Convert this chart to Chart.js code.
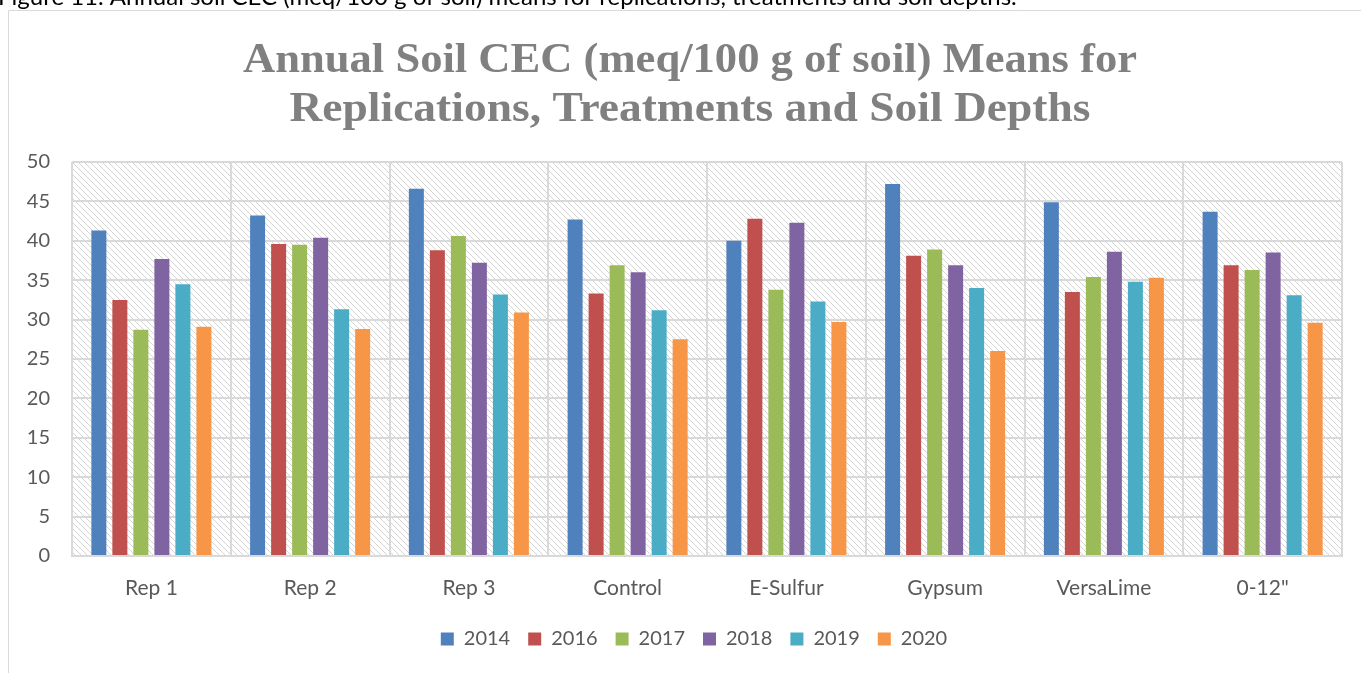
<!DOCTYPE html>
<html>
<head>
<meta charset="utf-8">
<script src="https://cdn.jsdelivr.net/npm/chart.js@4/dist/chart.umd.min.js"></script>
<style>
  html, body { margin: 0; padding: 0; background: #ffffff; overflow: hidden; }
  #wrap { position: relative; width: 1361px; height: 673px; }
  canvas { display: block; }
</style>
</head>
<body>
<div id="wrap"><canvas id="c" width="1361" height="673"></canvas></div>
<script>
const categories = ['Rep 1', 'Rep 2', 'Rep 3', 'Control', 'E-Sulfur', 'Gypsum', 'VersaLime', '0-12"'];
const years = ['2014', '2016', '2017', '2018', '2019', '2020'];
const s2014 = [41.3, 43.2, 46.6, 42.7, 40.0, 47.2, 44.9, 43.7];
const s2016 = [32.5, 39.6, 38.8, 33.3, 42.8, 38.1, 33.5, 36.9];
const s2017 = [28.7, 39.5, 40.6, 36.9, 33.8, 38.9, 35.4, 36.3];
const s2018 = [37.7, 40.4, 37.2, 36.0, 42.3, 36.9, 38.6, 38.5];
const s2019 = [34.5, 31.3, 33.2, 31.2, 32.3, 34.0, 34.8, 33.1];
const s2020 = [29.1, 28.8, 30.9, 27.5, 29.7, 26.0, 35.3, 29.6];
const yTicks = [0, 5, 10, 15, 20, 25, 30, 35, 40, 45, 50];
const titleLines = ['Annual Soil CEC (meq/100 g of soil) Means for', 'Replications, Treatments and Soil Depths'];
const captionText = 'Figure 11. Annual soil CEC (meq/100 g of soil) means for replications, treatments and soil depths.';

const seriesValues = [s2014, s2016, s2017, s2018, s2019, s2020];
const colors = ['#4F81BD', '#C0504D', '#9BBB59', '#8064A2', '#4BACC6', '#F79646'];

function makeHatch() {
  const t = document.createElement('canvas');
  const n = 6;
  t.width = n; t.height = n;
  const g = t.getContext('2d');
  g.fillStyle = '#ffffff';
  g.fillRect(0, 0, n, n);
  g.fillStyle = '#d4d4d4';
  for (let i = 0; i < n; i++) {
    g.fillRect(i, i, 1, 1);
  }
  return t;
}

function fitText(ctx, text, cx, y, width) {
  const w = ctx.measureText(text).width;
  ctx.save();
  ctx.translate(cx, y);
  ctx.scale(width / w, 1);
  ctx.textAlign = 'center';
  ctx.fillText(text, 0, 0);
  ctx.restore();
}

const decor = {
  id: 'decor',
  afterLayout(chart) {
    if (chart.legend) {
      chart.legend.left += 18;
      chart.legend.right += 18;
    }
  },
  beforeDraw(chart) {
    const ctx = chart.ctx;
    const a = chart.chartArea;
    ctx.save();
    // frame
    ctx.strokeStyle = '#d9d9d9';
    ctx.lineWidth = 1;
    ctx.beginPath();
    ctx.moveTo(8.5, 700);
    ctx.lineTo(8.5, 10.5);
    ctx.lineTo(1400, 10.5);
    ctx.stroke();
    // caption (cut off at top)
    ctx.fillStyle = '#000000';
    ctx.font = '24px Lato';
    ctx.textAlign = 'left';
    ctx.textBaseline = 'alphabetic';
    ctx.fillText(captionText, -2, 5);
    // hatch background
    const pat = ctx.createPattern(makeHatch(), 'repeat');
    ctx.fillStyle = pat;
    ctx.fillRect(a.left, a.top, a.right - a.left, a.bottom - a.top);
    // title
    ctx.fillStyle = '#808080';
    ctx.font = 'bold 42px "Liberation Serif"';
    fitText(ctx, titleLines[0], 690, 72, 894);
    fitText(ctx, titleLines[1], 690, 121, 801);
    ctx.restore();
  }
};

new Chart(document.getElementById('c'), {
  type: 'bar',
  data: {
    labels: categories,
    datasets: years.map((y, i) => ({
      label: y,
      data: seriesValues[i],
      backgroundColor: colors[i],
      borderWidth: 0,
      categoryPercentage: 0.794,
      barPercentage: 0.714
    }))
  },
  options: {
    responsive: false,
    animation: false,
    devicePixelRatio: 1,
    layout: { padding: { left: 10, right: 19, top: 162, bottom: 14 } },
    plugins: {
      title: { display: false },
      tooltip: { enabled: false },
      legend: {
        position: 'bottom',
        labels: {
          boxWidth: 13,
          boxHeight: 13,
          padding: 18,
          color: '#595959',
          font: { family: 'Lato', size: 20 },
          generateLabels(chart) {
            return chart.data.datasets.map((ds, i) => ({
              text: ds.label,
              fillStyle: ds.backgroundColor,
              strokeStyle: ds.backgroundColor,
              lineWidth: 0,
              fontColor: '#595959',
              hidden: false,
              datasetIndex: i
            }));
          }
        }
      }
    },
    scales: {
      x: {
        grid: { color: '#d9d9d9', lineWidth: 2, drawTicks: false, offset: true },
        border: { color: '#d9d9d9', width: 2 },
        ticks: { color: '#595959', font: { family: 'Lato', size: 21 }, padding: 20, maxRotation: 0 },
        afterFit(scale) { scale.height = 55; }
      },
      y: {
        min: 0,
        max: 50,
        afterBuildTicks(scale) { scale.ticks = yTicks.map(v => ({ value: v })); },
        grid: { color: '#d9d9d9', lineWidth: 2, drawTicks: false },
        border: { display: false },
        ticks: { color: '#595959', font: { family: 'Lato', size: 20 }, padding: 22 },
        afterFit(scale) { scale.width = 62; }
      }
    }
  },
  plugins: [decor]
});
</script>
</body>
</html>
